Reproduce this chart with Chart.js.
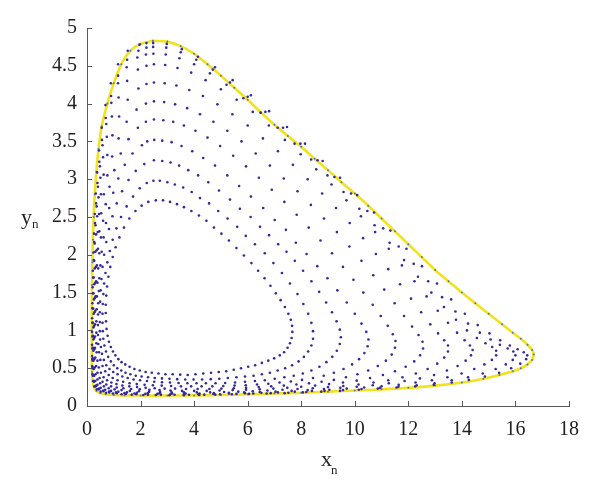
<!DOCTYPE html>
<html>
<head>
<meta charset="utf-8">
<script src="https://cdn.jsdelivr.net/npm/chart.js@4.4.1/dist/chart.umd.min.js"></script>
<style>
  body { margin: 0; background: #fff; }
  canvas { display: block; }
</style>
</head>
<body>
<canvas id="phaseChart" width="600" height="482"></canvas>
<script>
// tick labels
var xTickValues = [0, 2, 4, 6, 8, 10, 12, 14, 16, 18];
var yTickValues = [0, 0.5, 1, 1.5, 2, 2.5, 3, 3.5, 4, 4.5, 5];

// orbits (x_n, y_n), innermost first
var orbit1 = [[2.04,2.65],[2.29,2.70],[2.57,2.72],[2.84,2.72],[3.10,2.70],[3.36,2.67],[3.62,2.63],[3.90,2.58],[4.18,2.52],[4.46,2.45],[4.74,2.36],[5.02,2.28],[5.30,2.19],[5.58,2.09],[5.86,1.99],[6.14,1.89],[6.39,1.79],[6.63,1.69],[6.85,1.59],[7.05,1.49],[7.23,1.40],[7.39,1.31],[7.52,1.22],[7.61,1.14],[7.66,1.06],[7.67,0.98],[7.64,0.90],[7.58,0.83],[7.49,0.77],[7.36,0.71],[7.20,0.67],[6.99,0.63],[6.77,0.60],[6.53,0.57],[6.28,0.54],[6.02,0.52],[5.75,0.50],[5.48,0.48],[5.20,0.46],[4.92,0.45],[4.63,0.44],[4.34,0.43],[4.05,0.42],[3.76,0.41],[3.48,0.415],[3.20,0.42],[2.93,0.42],[2.67,0.43],[2.42,0.44],[2.19,0.45],[1.97,0.47],[1.77,0.49],[1.59,0.52],[1.43,0.55],[1.29,0.58],[1.17,0.62],[1.06,0.67],[0.97,0.72],[0.89,0.78],[0.82,0.85],[0.77,0.93],[0.73,1.02],[0.71,1.12],[0.70,1.23],[0.70,1.34],[0.72,1.46],[0.75,1.58],[0.80,1.71],[0.87,1.84],[0.96,1.97],[1.07,2.10],[1.21,2.23],[1.38,2.36],[1.58,2.48],[1.81,2.58]];
var orbit2 = [[2.48,2.98],[2.72,2.98],[3.00,2.96],[3.28,2.93],[3.59,2.89],[3.91,2.83],[4.22,2.75],[4.56,2.68],[4.90,2.58],[5.25,2.48],[5.61,2.37],[5.93,2.25],[6.27,2.14],[6.64,2.02],[6.96,1.89],[7.28,1.76],[7.58,1.62],[7.86,1.48],[8.08,1.35],[8.26,1.22],[8.38,1.10],[8.44,0.99],[8.44,0.89],[8.38,0.80],[8.26,0.72],[8.10,0.65],[7.90,0.59],[7.66,0.54],[7.40,0.50],[7.12,0.47],[6.83,0.44],[6.53,0.42],[6.22,0.40],[5.90,0.39],[5.58,0.38],[5.26,0.37],[4.94,0.36],[4.62,0.355],[4.30,0.35],[3.98,0.35],[3.67,0.35],[3.37,0.355],[3.08,0.36],[2.80,0.365],[2.53,0.37],[2.28,0.38],[2.04,0.39],[1.82,0.40],[1.62,0.42],[1.44,0.44],[1.28,0.47],[1.13,0.50],[1.00,0.54],[0.89,0.59],[0.79,0.65],[0.71,0.72],[0.65,0.80],[0.61,0.89],[0.59,0.99],[0.58,1.10],[0.58,1.22],[0.59,1.35],[0.61,1.48],[0.64,1.62],[0.69,1.76],[0.76,1.90],[0.85,2.05],[0.96,2.20],[1.10,2.35],[1.27,2.50],[1.48,2.64],[1.72,2.77],[1.97,2.88],[2.23,2.95]];
var orbit3 = [[2.50,3.25],[2.81,3.24],[3.12,3.22],[3.44,3.18],[3.78,3.12],[4.15,3.05],[4.53,2.96],[4.93,2.85],[5.34,2.73],[5.71,2.61],[6.11,2.50],[6.46,2.37],[6.80,2.26],[7.14,2.14],[7.45,2.04],[7.76,1.92],[8.07,1.79],[8.38,1.65],[8.67,1.51],[8.93,1.37],[9.15,1.24],[9.32,1.12],[9.44,1.01],[9.48,0.91],[9.44,0.82],[9.33,0.73],[9.16,0.65],[8.94,0.58],[8.68,0.52],[8.38,0.47],[8.06,0.43],[7.72,0.40],[7.37,0.38],[7.01,0.36],[6.64,0.34],[6.27,0.33],[5.90,0.32],[5.53,0.31],[5.16,0.305],[4.80,0.30],[4.44,0.30],[4.09,0.30],[3.75,0.30],[3.42,0.305],[3.10,0.31],[2.80,0.315],[2.51,0.32],[2.24,0.33],[1.98,0.34],[1.74,0.35],[1.52,0.37],[1.32,0.39],[1.14,0.42],[0.98,0.45],[0.84,0.49],[0.72,0.54],[0.63,0.61],[0.56,0.69],[0.52,0.78],[0.49,0.88],[0.48,0.99],[0.48,1.11],[0.48,1.24],[0.49,1.38],[0.51,1.53],[0.54,1.68],[0.58,1.84],[0.64,2.00],[0.72,2.17],[0.82,2.34],[0.95,2.51],[1.11,2.68],[1.31,2.84],[1.55,2.99],[1.82,3.11],[2.14,3.20]];
var orbit4 = [[2.51,3.52],[2.81,3.51],[3.16,3.49],[3.53,3.44],[3.93,3.37],[4.34,3.28],[4.78,3.18],[5.24,3.05],[5.68,2.91],[6.12,2.77],[6.58,2.62],[7.01,2.46],[7.43,2.33],[7.80,2.16],[8.20,2.01],[8.60,1.85],[8.98,1.69],[9.35,1.53],[9.70,1.37],[10.00,1.22],[10.25,1.09],[10.43,0.98],[10.51,0.88],[10.48,0.79],[10.36,0.70],[10.16,0.62],[9.90,0.55],[9.58,0.49],[9.22,0.44],[8.84,0.40],[8.44,0.37],[8.03,0.345],[7.61,0.325],[7.19,0.31],[6.77,0.295],[6.35,0.285],[5.93,0.275],[5.51,0.27],[5.09,0.265],[4.68,0.26],[4.28,0.26],[3.89,0.26],[3.51,0.26],[3.14,0.265],[2.79,0.27],[2.46,0.275],[2.15,0.28],[1.86,0.29],[1.59,0.30],[1.35,0.32],[1.14,0.34],[0.96,0.37],[0.81,0.41],[0.68,0.46],[0.58,0.53],[0.50,0.61],[0.45,0.71],[0.42,0.82],[0.41,0.94],[0.41,1.07],[0.41,1.21],[0.42,1.36],[0.44,1.52],[0.46,1.69],[0.50,1.86],[0.55,2.04],[0.62,2.23],[0.71,2.42],[0.83,2.62],[0.98,2.82],[1.17,3.01],[1.41,3.19],[1.70,3.34],[2.05,3.45],[2.25,3.50]];
var orbit5 = [[2.50,3.79],[2.85,3.78],[3.22,3.76],[3.62,3.71],[4.05,3.64],[4.50,3.55],[4.97,3.44],[5.46,3.31],[5.94,3.17],[6.42,3.02],[6.90,2.86],[7.37,2.70],[7.83,2.53],[8.28,2.36],[8.72,2.19],[9.15,2.02],[9.56,1.84],[9.95,1.67],[10.32,1.50],[10.67,1.34],[10.97,1.19],[11.23,1.06],[11.42,0.95],[11.52,0.86],[11.50,0.77],[11.38,0.68],[11.16,0.60],[10.86,0.53],[10.50,0.47],[10.10,0.42],[9.67,0.38],[9.22,0.345],[8.76,0.32],[8.29,0.30],[7.82,0.285],[7.35,0.27],[6.88,0.26],[6.41,0.25],[5.94,0.24],[5.48,0.235],[5.02,0.23],[4.57,0.225],[4.13,0.225],[3.70,0.225],[3.29,0.23],[2.90,0.23],[2.53,0.235],[2.19,0.24],[1.87,0.25],[1.58,0.26],[1.32,0.27],[1.10,0.29],[0.91,0.31],[0.75,0.34],[0.62,0.38],[0.52,0.44],[0.44,0.51],[0.39,0.60],[0.36,0.71],[0.35,0.83],[0.35,0.97],[0.35,1.12],[0.36,1.28],[0.37,1.45],[0.39,1.63],[0.42,1.82],[0.46,2.02],[0.52,2.23],[0.60,2.45],[0.70,2.67],[0.84,2.90],[1.02,3.12],[1.26,3.34],[1.55,3.53],[1.90,3.68],[2.20,3.76]];
var orbit6 = [[2.50,4.03],[2.88,4.02],[3.29,3.99],[3.74,3.94],[4.22,3.86],[4.72,3.76],[5.24,3.64],[5.77,3.50],[6.30,3.34],[6.83,3.18],[7.35,3.01],[7.86,2.84],[8.36,2.66],[8.85,2.48],[9.33,2.30],[9.80,2.11],[10.25,1.92],[10.69,1.73],[11.10,1.54],[11.49,1.36],[11.84,1.19],[12.14,1.05],[12.38,0.94],[12.53,0.85],[12.55,0.76],[12.44,0.67],[12.22,0.59],[11.90,0.52],[11.50,0.46],[11.05,0.41],[10.57,0.37],[10.07,0.335],[9.56,0.31],[9.04,0.29],[8.52,0.27],[8.00,0.255],[7.48,0.24],[6.96,0.23],[6.45,0.22],[5.94,0.215],[5.44,0.21],[4.95,0.205],[4.47,0.20],[4.00,0.20],[3.55,0.20],[3.12,0.205],[2.71,0.21],[2.33,0.215],[1.97,0.22],[1.65,0.225],[1.36,0.235],[1.11,0.245],[0.90,0.26],[0.72,0.285],[0.58,0.32],[0.47,0.37],[0.39,0.44],[0.34,0.53],[0.31,0.64],[0.30,0.77],[0.30,0.92],[0.30,1.08],[0.31,1.26],[0.32,1.45],[0.34,1.65],[0.37,1.86],[0.41,2.08],[0.46,2.31],[0.53,2.55],[0.63,2.80],[0.76,3.05],[0.94,3.30],[1.18,3.54],[1.48,3.76],[1.85,3.92],[2.20,4.00]];
var orbit7 = [[2.50,4.28],[2.90,4.27],[3.34,4.24],[3.82,4.18],[4.33,4.10],[4.87,3.99],[5.43,3.86],[6.00,3.71],[6.57,3.54],[7.13,3.37],[7.69,3.19],[8.24,3.00],[8.78,2.81],[9.30,2.62],[9.81,2.42],[10.31,2.22],[10.79,2.01],[11.25,1.81],[11.69,1.61],[12.10,1.42],[12.48,1.24],[12.82,1.08],[13.11,0.96],[13.34,0.87],[13.48,0.80],[13.48,0.72],[13.34,0.64],[13.08,0.56],[12.72,0.49],[12.28,0.43],[11.78,0.38],[11.25,0.34],[10.70,0.31],[10.14,0.285],[9.57,0.265],[9.00,0.25],[8.43,0.235],[7.86,0.225],[7.30,0.215],[6.74,0.205],[6.19,0.195],[5.65,0.19],[5.12,0.185],[4.60,0.18],[4.10,0.18],[3.62,0.18],[3.16,0.18],[2.73,0.185],[2.32,0.19],[1.94,0.195],[1.60,0.20],[1.29,0.21],[1.03,0.22],[0.81,0.235],[0.63,0.26],[0.49,0.30],[0.39,0.35],[0.32,0.42],[0.29,0.51],[0.27,0.62],[0.27,0.75],[0.27,0.90],[0.27,1.06],[0.28,1.24],[0.29,1.43],[0.31,1.63],[0.33,1.84],[0.36,2.06],[0.40,2.30],[0.45,2.54],[0.52,2.80],[0.62,3.06],[0.76,3.32],[0.95,3.58],[1.20,3.83],[1.52,4.05],[1.92,4.20],[2.22,4.26]];
var orbit8 = [[2.50,4.52],[2.92,4.51],[3.38,4.47],[3.89,4.41],[4.43,4.31],[5.00,4.19],[5.59,4.05],[6.19,3.89],[6.79,3.71],[7.39,3.52],[7.98,3.33],[8.56,3.13],[9.13,2.93],[9.69,2.72],[10.23,2.51],[10.76,2.30],[11.27,2.08],[11.76,1.86],[12.23,1.65],[12.68,1.45],[13.10,1.26],[13.48,1.10],[13.82,0.97],[14.10,0.87],[14.30,0.80],[14.40,0.74],[14.34,0.67],[14.14,0.60],[13.84,0.53],[13.44,0.47],[12.96,0.41],[12.43,0.365],[11.86,0.33],[11.27,0.30],[10.67,0.275],[10.07,0.255],[9.46,0.24],[8.85,0.225],[8.24,0.21],[7.64,0.20],[7.04,0.19],[6.45,0.185],[5.87,0.18],[5.30,0.175],[4.74,0.17],[4.20,0.165],[3.68,0.165],[3.18,0.165],[2.71,0.17],[2.27,0.17],[1.86,0.175],[1.49,0.18],[1.17,0.19],[0.90,0.20],[0.68,0.215],[0.51,0.24],[0.39,0.28],[0.31,0.33],[0.27,0.40],[0.25,0.49],[0.24,0.60],[0.24,0.73],[0.24,0.88],[0.24,1.04],[0.25,1.22],[0.26,1.41],[0.27,1.61],[0.29,1.82],[0.31,2.04],[0.34,2.27],[0.38,2.51],[0.43,2.76],[0.50,3.02],[0.60,3.29],[0.74,3.56],[0.93,3.83],[1.18,4.08],[1.50,4.30],[1.90,4.45],[2.22,4.50]];
var orbit9 = [[2.48,4.66],[2.94,4.65],[3.45,4.60],[4.00,4.52],[4.59,4.40],[5.21,4.25],[5.84,4.07],[6.48,3.88],[7.12,3.68],[7.75,3.47],[8.37,3.26],[8.98,3.05],[9.58,2.83],[10.17,2.61],[10.74,2.39],[11.30,2.16],[11.84,1.93],[12.36,1.71],[12.86,1.50],[13.33,1.31],[13.78,1.14],[14.19,1.00],[14.56,0.90],[14.88,0.83],[15.13,0.78],[15.28,0.73],[15.28,0.67],[15.12,0.61],[14.84,0.55],[14.46,0.49],[13.99,0.43],[13.46,0.38],[12.88,0.34],[12.27,0.31],[11.64,0.28],[11.00,0.26],[10.35,0.245],[9.70,0.23],[9.05,0.215],[8.40,0.20],[7.76,0.19],[7.13,0.18],[6.51,0.175],[5.90,0.17],[5.30,0.165],[4.72,0.16],[4.16,0.155],[3.62,0.155],[3.11,0.155],[2.63,0.16],[2.18,0.16],[1.77,0.165],[1.40,0.17],[1.08,0.18],[0.82,0.19],[0.61,0.205],[0.45,0.23],[0.34,0.27],[0.27,0.33],[0.24,0.41],[0.22,0.51],[0.22,0.63],[0.22,0.77],[0.22,0.93],[0.22,1.10],[0.23,1.29],[0.24,1.49],[0.25,1.70],[0.27,1.92],[0.29,2.15],[0.32,2.39],[0.36,2.64],[0.41,2.90],[0.48,3.17],[0.58,3.45],[0.72,3.73],[0.91,4.01],[1.16,4.27],[1.48,4.48],[1.88,4.61],[2.20,4.65]];
var orbit10 = [[2.47,4.75],[2.96,4.74],[3.50,4.68],[4.08,4.58],[4.70,4.45],[5.34,4.28],[6.00,4.09],[6.66,3.89],[7.32,3.68],[7.97,3.47],[8.61,3.25],[9.24,3.03],[9.86,2.81],[10.47,2.58],[11.06,2.35],[11.64,2.11],[12.20,1.88],[12.74,1.65],[13.26,1.44],[13.76,1.25],[14.23,1.09],[14.67,0.97],[15.07,0.88],[15.42,0.81],[15.71,0.76],[15.92,0.72],[16.00,0.67],[15.90,0.61],[15.64,0.55],[15.26,0.49],[14.78,0.43],[14.23,0.38],[13.62,0.34],[12.98,0.30],[12.31,0.275],[11.63,0.255],[10.94,0.24],[10.25,0.225],[9.56,0.21],[8.87,0.20],[8.19,0.185],[7.52,0.175],[6.86,0.17],[6.21,0.165],[5.58,0.16],[4.97,0.155],[4.38,0.15],[3.81,0.148],[3.27,0.148],[2.76,0.15],[2.28,0.15],[1.84,0.155],[1.45,0.16],[1.11,0.17],[0.83,0.18],[0.61,0.195],[0.44,0.22],[0.33,0.26],[0.26,0.32],[0.22,0.40],[0.20,0.50],[0.20,0.62],[0.20,0.76],[0.20,0.92],[0.20,1.10],[0.21,1.29],[0.22,1.49],[0.23,1.70],[0.25,1.93],[0.27,2.17],[0.30,2.42],[0.34,2.68],[0.39,2.95],[0.46,3.23],[0.56,3.52],[0.70,3.81],[0.90,4.10],[1.16,4.37],[1.50,4.58],[1.92,4.70],[2.22,4.74]];
var orbit11 = [[2.47,4.80],[2.98,4.79],[3.54,4.72],[4.14,4.62],[4.78,4.48],[5.44,4.31],[6.12,4.11],[6.80,3.90],[7.47,3.69],[8.14,3.47],[8.80,3.24],[9.45,3.02],[10.09,2.79],[10.72,2.56],[11.33,2.32],[11.93,2.08],[12.51,1.85],[13.07,1.62],[13.60,1.41],[14.11,1.22],[14.59,1.07],[15.03,0.96],[15.43,0.87],[15.79,0.80],[16.08,0.75],[16.31,0.71],[16.44,0.67],[16.40,0.62],[16.18,0.56],[15.84,0.50],[15.39,0.44],[14.86,0.39],[14.26,0.345],[13.62,0.31],[12.95,0.28],[12.26,0.26],[11.56,0.245],[10.86,0.23],[10.15,0.215],[9.45,0.20],[8.75,0.19],[8.06,0.18],[7.38,0.17],[6.71,0.165],[6.05,0.16],[5.41,0.155],[4.79,0.15],[4.19,0.145],[3.62,0.143],[3.08,0.143],[2.57,0.145],[2.10,0.145],[1.67,0.15],[1.29,0.155],[0.97,0.165],[0.71,0.175],[0.51,0.19],[0.37,0.22],[0.28,0.26],[0.23,0.33],[0.20,0.42],[0.19,0.53],[0.19,0.66],[0.19,0.81],[0.19,0.98],[0.19,1.16],[0.20,1.36],[0.21,1.57],[0.22,1.79],[0.24,2.03],[0.26,2.28],[0.29,2.54],[0.33,2.81],[0.38,3.09],[0.45,3.38],[0.55,3.68],[0.69,3.98],[0.89,4.27],[1.16,4.52],[1.52,4.70],[1.96,4.78],[2.22,4.80]];
// outermost orbit (yellow curve)
var boundary = [[2.46,4.83],[3.0,4.82],[3.5,4.76],[4.0,4.66],[4.5,4.52],[5.0,4.37],[5.5,4.21],[6.0,4.05],[6.5,3.88],[7.0,3.72],[7.5,3.57],[8.0,3.43],[8.5,3.27],[9.0,3.12],[9.5,2.96],[10.0,2.81],[10.5,2.65],[11.0,2.48],[11.5,2.31],[12.0,2.14],[12.5,1.97],[13.0,1.80],[13.5,1.65],[14.0,1.50],[14.5,1.36],[15.0,1.22],[15.5,1.08],[15.9,0.97],[16.2,0.89],[16.45,0.81],[16.62,0.74],[16.68,0.68],[16.62,0.61],[16.45,0.55],[16.2,0.50],[15.9,0.46],[15.4,0.41],[14.8,0.36],[14.0,0.31],[13.0,0.27],[12.0,0.24],[11.0,0.22],[10.0,0.205],[9.0,0.19],[8.0,0.175],[7.0,0.165],[6.0,0.155],[5.0,0.145],[4.0,0.14],[3.0,0.138],[2.0,0.138],[1.4,0.14],[1.0,0.145],[0.7,0.155],[0.5,0.17],[0.35,0.20],[0.26,0.25],[0.21,0.33],[0.19,0.45],[0.18,0.6],[0.18,0.8],[0.18,1.0],[0.18,1.3],[0.19,1.6],[0.2,1.9],[0.22,2.2],[0.25,2.5],[0.29,2.8],[0.35,3.1],[0.43,3.4],[0.55,3.7],[0.76,4.0],[1.0,4.27],[1.28,4.52],[1.62,4.70],[2.0,4.79],[2.46,4.83]];

var orbits = [orbit1, orbit2, orbit3, orbit4, orbit5, orbit6, orbit7, orbit8, orbit9, orbit10, orbit11];

var dotColor = '#35289a';
var curveColor = '#f2e21c';
var axisColor = '#58595b';
var textColor = '#231f20';
var serif = '"Liberation Serif", "DejaVu Serif", serif';

function toPoints(list) {
    return list.map(function (p) { return {x: p[0], y: p[1]}; });
}

// dot datasets, one per orbit
var datasets = orbits.map(function (o) {
    return {
        data: toPoints(o),
        showLine: false,
        pointRadius: 1.3,
        pointBorderWidth: 0,
        pointBackgroundColor: dotColor,
        order: 1
    };
});
// yellow outer curve, drawn under the dots
datasets.push({
    data: toPoints(boundary),
    showLine: true,
    borderColor: curveColor,
    borderWidth: 2.6,
    tension: 0.3,
    pointRadius: 0,
    order: 3
});
// blue dots sitting on the outer curve
datasets.push({
    data: toPoints(boundary),
    showLine: false,
    pointRadius: 1,
    pointBorderWidth: 0,
    pointBackgroundColor: '#4f7fa8',
    order: 2
});

// inward tick marks + subscripted axis titles
var axisExtras = {
    id: 'axisExtras',
    afterDraw: function (chart) {
        var ctx = chart.ctx;
        var xs = chart.scales.x;
        var ys = chart.scales.y;
        ctx.save();
        ctx.strokeStyle = axisColor;
        ctx.lineWidth = 1;
        xTickValues.forEach(function (v) {
            var px = Math.round(xs.getPixelForValue(v)) + 0.5;
            ctx.beginPath();
            ctx.moveTo(px, ys.bottom);
            ctx.lineTo(px, ys.bottom - 5);
            ctx.stroke();
        });
        yTickValues.forEach(function (v) {
            var py = Math.round(ys.getPixelForValue(v)) + 0.5;
            ctx.beginPath();
            ctx.moveTo(xs.left, py);
            ctx.lineTo(xs.left + 5, py);
            ctx.stroke();
        });

        ctx.fillStyle = textColor;
        ctx.textBaseline = 'alphabetic';
        ctx.textAlign = 'left';
        // x_n
        var cx = (xs.left + xs.right) / 2;
        ctx.font = '22px ' + serif;
        ctx.fillText('x', cx - 7, 466);
        ctx.font = '13px ' + serif;
        ctx.fillText('n', cx + 3, 474);
        // y_n
        var cy = ys.getPixelForValue(2.5);
        ctx.font = '22px ' + serif;
        ctx.fillText('y', 21, cy + 7);
        ctx.font = '13px ' + serif;
        ctx.fillText('n', 32, cy + 11);
        ctx.restore();
    }
};

var ctx = document.getElementById('phaseChart').getContext('2d');
var chart = new Chart(ctx, {
    type: 'scatter',
    data: {datasets: datasets},
    options: {
        responsive: false,
        animation: false,
        layout: {padding: {top: 28, right: 31, bottom: 0, left: 0}},
        plugins: {legend: {display: false}, tooltip: {enabled: false}},
        scales: {
            x: {
                type: 'linear',
                min: 0,
                max: 18,
                afterBuildTicks: function (scale) {
                    scale.ticks = xTickValues.map(function (v) { return {value: v}; });
                },
                afterFit: function (scale) { scale.height = 76; },
                grid: {display: false, drawTicks: false},
                border: {display: true, color: axisColor, width: 1},
                ticks: {
                    color: textColor, padding: 12, maxRotation: 0,
                    font: {family: serif, size: 20},
                    callback: function (v) { return String(v); }
                }
            },
            y: {
                type: 'linear',
                min: 0,
                max: 5,
                afterBuildTicks: function (scale) {
                    scale.ticks = yTickValues.map(function (v) { return {value: v}; });
                },
                afterFit: function (scale) { scale.width = 87; },
                grid: {display: false, drawTicks: false},
                border: {display: true, color: axisColor, width: 1},
                ticks: {
                    color: textColor, padding: 10,
                    font: {family: serif, size: 20},
                    callback: function (v) { return String(v); }
                }
            }
        }
    },
    plugins: [axisExtras]
});
</script>
</body>
</html>
